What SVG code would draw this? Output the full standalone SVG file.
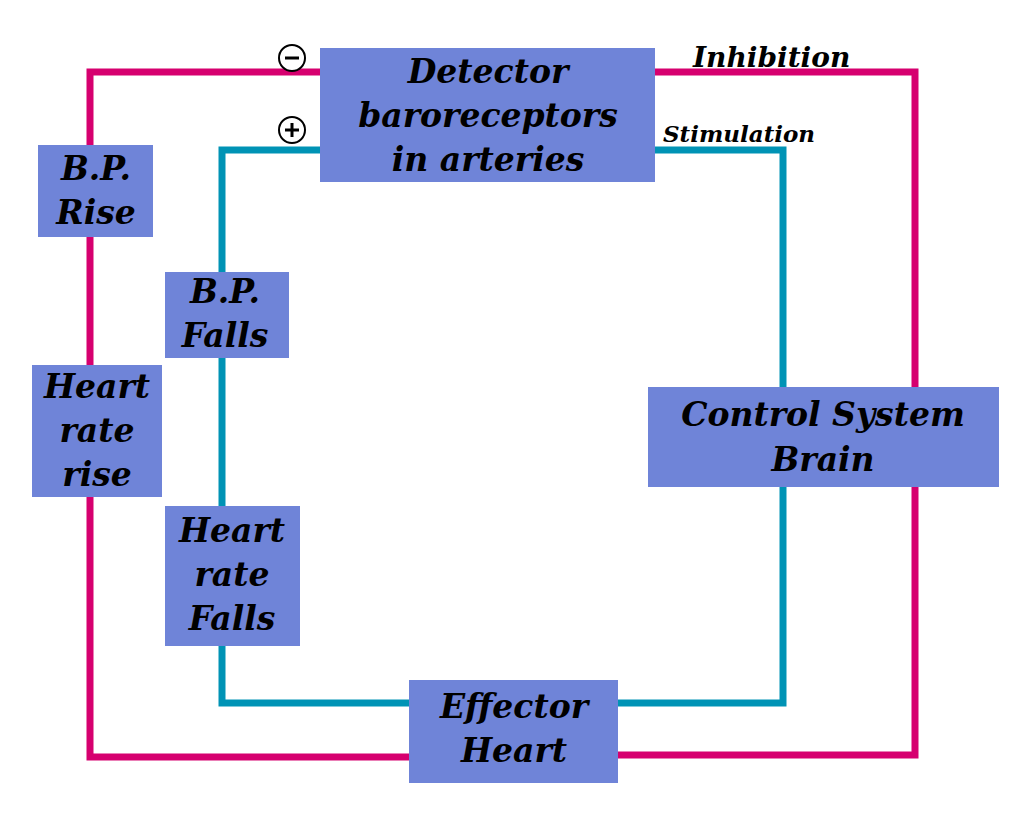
<svg xmlns="http://www.w3.org/2000/svg" width="1036" height="829" viewBox="0 0 1036 829">
<style>
.b{fill:#6F84D8}
.t{font-family:"DejaVu Serif",serif;font-weight:bold;font-style:italic;font-size:33px;fill:#000;text-anchor:middle}
.l{font-family:"DejaVu Serif",serif;font-weight:bold;font-style:italic;fill:#000}
.p{fill:none;stroke:#D6006F;stroke-width:7}
.c{fill:none;stroke:#0093B5;stroke-width:7}
</style>
<rect width="1036" height="829" fill="#fff"/>
<g id="connectors">
<polyline class="p" points="320,72 90,72 90,757 409,757"/>
<polyline class="p" points="655,72 915,72 915,755 618,755"/>
<polyline class="c" points="320,150 222,150 222,703 409,703"/>
<polyline class="c" points="655,150 783,150 783,703 618,703"/>
</g>
<g id="detector"><rect class="b" x="320" y="48" width="335" height="134"/>
<text class="t" x="488" y="83">Detector</text><text class="t" x="488" y="127">baroreceptors</text><text class="t" x="488" y="171">in arteries</text></g>
<g id="bprise"><rect class="b" x="38" y="145" width="115" height="92"/>
<text class="t" x="96" y="180">B.P.</text><text class="t" x="96" y="224">Rise</text></g>
<g id="bpfalls"><rect class="b" x="165" y="272" width="124" height="86"/>
<text class="t" x="225" y="303">B.P.</text><text class="t" x="225" y="347">Falls</text></g>
<g id="hrrise"><rect class="b" x="32" y="365" width="130" height="132"/>
<text class="t" x="97" y="398">Heart</text><text class="t" x="97" y="442">rate</text><text class="t" x="97" y="486">rise</text></g>
<g id="hrfalls"><rect class="b" x="165" y="506" width="135" height="140"/>
<text class="t" x="232" y="542">Heart</text><text class="t" x="232" y="586">rate</text><text class="t" x="232" y="630">Falls</text></g>
<g id="control"><rect class="b" x="648" y="387" width="351" height="100"/>
<text class="t" x="823" y="426">Control System</text><text class="t" x="823" y="471">Brain</text></g>
<g id="effector"><rect class="b" x="409" y="680" width="209" height="103"/>
<text class="t" x="514" y="718">Effector</text><text class="t" x="514" y="762">Heart</text></g>
<g id="labels">
<circle cx="292" cy="58" r="13" fill="#fff" stroke="#000" stroke-width="2"/><line x1="285" y1="58" x2="299" y2="58" stroke="#000" stroke-width="3"/>
<circle cx="292" cy="130" r="13" fill="#fff" stroke="#000" stroke-width="2"/><line x1="285" y1="130" x2="299" y2="130" stroke="#000" stroke-width="3"/><line x1="292" y1="123" x2="292" y2="137" stroke="#000" stroke-width="3"/>
<text class="l" x="693" y="67" font-size="28">Inhibition</text>
<text class="l" x="663" y="142" font-size="23">Stimulation</text>
</g>
</svg>
